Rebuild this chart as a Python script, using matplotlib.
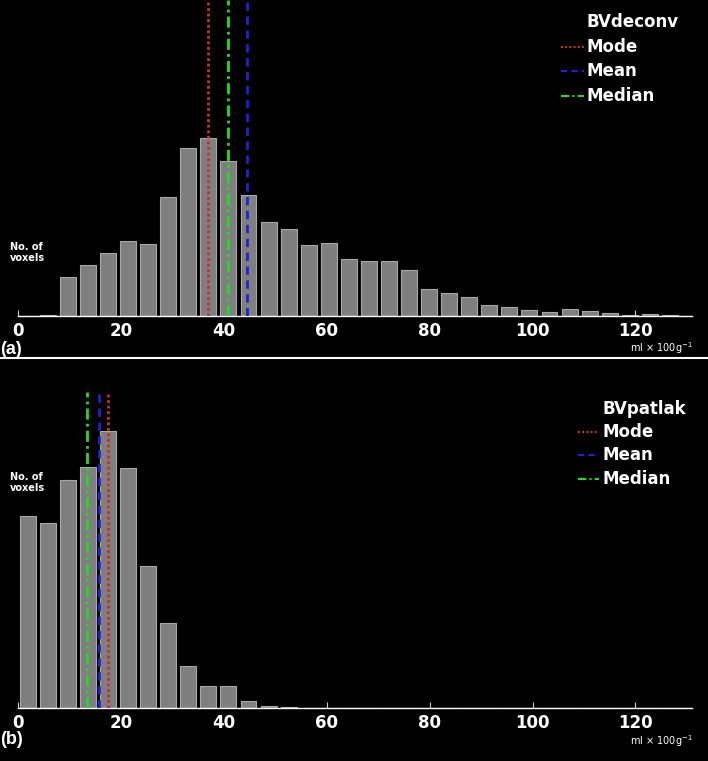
import matplotlib.pyplot as plt
from matplotlib.lines import Line2D

plt.rcParams['font.family'] = ['DejaVu Sans']

# bin centres (ml x 100g-1), same bins in both panels
bin_centers = [1.9, 5.8, 9.7, 13.6, 17.5, 21.4, 25.3, 29.2, 33.1, 37.0, 40.9,
               44.8, 48.7, 52.6, 56.5, 60.4, 64.3, 68.2, 72.1, 76.0, 79.9,
               83.8, 87.7, 91.6, 95.5, 99.4, 103.3, 107.2, 111.1, 115.0,
               118.9, 122.8, 126.7, 130.6]

# voxel counts (arbitrary units)
counts_deconv = [0, 1, 39, 51, 63, 75, 72, 119, 168, 178, 155, 121, 94, 87,
                 71, 73, 57, 55, 55, 46, 27, 23, 19, 11, 9, 6, 4, 7, 5, 3,
                 1.5, 2, 1, 0.5]
counts_patlak = [192, 185, 228, 241, 277, 240, 142, 85, 42, 22, 22, 7, 2.5,
                 1, 0, 0, 0, 0, 0, 0, 0, 0, 0, 0, 0, 0, 0, 0, 0, 0, 0, 0, 0, 0]

stat_names = ['Mode', 'Mean', 'Median']
stats_deconv = [36.9, 44.6, 40.8]
stats_patlak = [17.5, 15.7, 13.5]

xticks = [0, 20, 40, 60, 80, 100, 120]

stat_colors = ['#d42a2a', '#2020e0', '#22dd22']
stat_dashes = [(0, (1, 1)), (0, (3, 2)), (0, (4, 1.5, 1, 1.5))]

W, H = 708, 761
fig = plt.figure(figsize=(W / 100, H / 100), dpi=100, facecolor='black')


def fx(px):
    return px / W


def fy(py):
    return 1 - py / H


def draw_panel(ax, counts, stats):
    ax.set_facecolor('black')
    ax.bar(bin_centers, counts, width=3.1, color='#7f7f7f',
           edgecolor='#a8a8a8', linewidth=0.8, zorder=2)
    for v, c, ls in zip(stats, stat_colors, stat_dashes):
        ax.axvline(v, color=c, linestyle=ls, linewidth=2, zorder=3)
    ax.set_xlim(0, 131)
    ax.set_ylim(0, 316)
    for s in ['top', 'right', 'left']:
        ax.spines[s].set_visible(False)
    ax.spines['bottom'].set_color('white')
    ax.spines['bottom'].set_linewidth(1)
    ax.set_yticks([])
    ax.set_xticks(xticks)
    ax.tick_params(axis='x', direction='in', length=4, color='#cccccc',
                   labelcolor='white', labelsize=12, pad=4)
    for t in ax.get_xticklabels():
        t.set_fontweight('bold')


def draw_legend(title, x_text, y_title, dy, hx0, hx1):
    fig.text(fx(x_text), fy(y_title), title, color='white', fontsize=12,
             fontweight='bold', ha='left', va='center')
    for i, (name, c, ls) in enumerate(zip(stat_names, stat_colors, stat_dashes)):
        y = y_title + dy * (i + 1)
        fig.add_artist(Line2D([fx(hx0), fx(hx1)], [fy(y), fy(y)],
                              transform=fig.transFigure, color=c,
                              linestyle=ls, linewidth=1.5))
        fig.text(fx(x_text), fy(y), name, color='white', fontsize=12,
                 fontweight='bold', ha='left', va='center')


ax1 = fig.add_axes([fx(18), fy(316), fx(674), 316 / H])
draw_panel(ax1, counts_deconv, stats_deconv)
ax2 = fig.add_axes([fx(18), fy(708), fx(674), 316 / H])
draw_panel(ax2, counts_patlak, stats_patlak)

draw_legend('BVdeconv', 587, 22, 24.7, 561, 584)
draw_legend('BVpatlak', 602, 409, 23.2, 578, 599)

# y axis caption
fig.text(fx(10), fy(263), 'No. of\nvoxels', color='white', fontsize=7,
         fontweight='bold', ha='left', va='bottom', linespacing=1.15)
fig.text(fx(10), fy(493), 'No. of\nvoxels', color='white', fontsize=7,
         fontweight='bold', ha='left', va='bottom', linespacing=1.15)

# units
unit = 'ml \u00d7 100g$^{-1}$'
fig.text(fx(693), fy(348), unit, color='white', fontsize=7, ha='right',
         va='center')
fig.text(fx(693), fy(741), unit, color='white', fontsize=7, ha='right',
         va='center')

# panel letters
fig.text(fx(0), fy(349), '(a)', color='white', fontsize=13,
         fontweight='bold', ha='left', va='center',
         family='Liberation Sans')
fig.text(fx(0), fy(740), '(b)', color='white', fontsize=13,
         fontweight='bold', ha='left', va='center',
         family='Liberation Sans')

# white separator between panels
fig.add_artist(Line2D([0, 1], [fy(358), fy(358)],
                      transform=fig.transFigure, color='white', lw=1.5))

fig.savefig('out.png', dpi=100, facecolor='black')
